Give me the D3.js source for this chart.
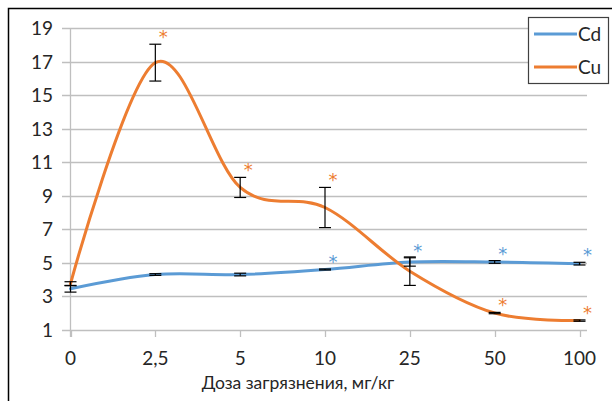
<!DOCTYPE html>
<html>
<head>
<meta charset="utf-8">
<script src="https://cdn.jsdelivr.net/npm/d3@7"></script>
<style>
  body { margin: 0; background: #fff; }
  text { font-family: Lato, "Noto Sans", sans-serif; fill: #262626; }
</style>
</head>
<body>
<div id="chart"></div>
<script>
const doses = ["0", "2,5", "5", "10", "25", "50", "100"]
const cdValues = [3.45, 4.3, 4.3, 4.6, 5.05, 5.05, 4.95]
const cdErrors = [0.2, 0.05, 0.08, 0.03, 0.25, 0.08, 0.08]
const cdSignif = [false, false, false, true, true, true, true]
const cuValues = [3.75, 16.95, 9.5, 8.3, 4.5, 2.0, 1.55]
const cuErrors = [0.12, 1.1, 0.6, 1.2, 0.85, 0.04, 0.04]
const cuSignif = [false, true, true, true, false, true, true]
const yTicks = [1, 3, 5, 7, 9, 11, 13, 15, 17, 19]

const WIDTH = 612, HEIGHT = 401
const series = [
	{ name: "Cd", color: "#5B9BD5", values: cdValues, errors: cdErrors, signif: cdSignif },
	{ name: "Cu", color: "#ED7D31", values: cuValues, errors: cuErrors, signif: cuSignif }
]

const svg = d3.select("#chart").append("svg")
	.attr("width", WIDTH)
	.attr("height", HEIGHT)

// outer frame (only left and top edges are visible)
svg.append("path")
	.attr("d", "M8.5,401V8.5H612")
	.attr("fill", "none")
	.attr("stroke", "#000")
	.attr("stroke-width", 1.5)

const x = d3.scalePoint()
	.domain(doses)
	.range([70.5, 579.5])

const y = d3.scaleLinear()
	.domain([1, 19])
	.range([329.8, 28.3])

// grid lines
svg.append("g")
	.selectAll("line")
	.data(yTicks)
	.join("line")
		.attr("x1", 62)
		.attr("x2", 587)
		.attr("y1", d => Math.round(y(d)) + 0.5)
		.attr("y2", d => Math.round(y(d)) + 0.5)
		.attr("stroke", "#bfbfbf")
		.attr("stroke-width", 1.3)

// y axis line
svg.append("line")
	.attr("x1", 70.5).attr("x2", 70.5)
	.attr("y1", Math.round(y(19))).attr("y2", 337)
	.attr("stroke", "#bfbfbf")
	.attr("stroke-width", 1.3)

// category tick marks
svg.append("g")
	.selectAll("line")
	.data(doses)
	.join("line")
		.attr("x1", d => Math.round(x(d)) + 0.5)
		.attr("x2", d => Math.round(x(d)) + 0.5)
		.attr("y1", Math.round(y(1)))
		.attr("y2", 337)
		.attr("stroke", "#bfbfbf")
		.attr("stroke-width", 1.3)

// y tick labels
svg.append("g")
	.selectAll("text")
	.data(yTicks)
	.join("text")
		.attr("x", 53)
		.attr("y", d => y(d))
		.attr("dy", "0.36em")
		.attr("text-anchor", "end")
		.attr("font-size", 19)
		.text(d => d)

// x tick labels
svg.append("g")
	.selectAll("text")
	.data(doses)
	.join("text")
		.attr("x", d => x(d))
		.attr("y", 365)
		.attr("text-anchor", "middle")
		.attr("font-size", 19)
		.text(d => d)

svg.append("text")
	.attr("x", 298)
	.attr("y", 389)
	.attr("text-anchor", "middle")
	.attr("font-size", 17.5)
	.text("Доза загрязнения, мг/кг")

const line = d3.line()
	.x((d, i) => x(doses[i]))
	.y(d => y(d))
	.curve(d3.curveCatmullRom.alpha(0))

series.forEach(s => {
	svg.append("path")
		.datum(s.values)
		.attr("d", line)
		.attr("fill", "none")
		.attr("stroke", s.color)
		.attr("stroke-width", 3)
		.attr("stroke-linecap", "round")
})

// error bars
series.forEach(s => {
	const g = svg.append("g")
		.attr("stroke", "#000")
		.attr("stroke-width", 1.2)
	s.values.forEach((v, i) => {
		const cx = x(doses[i])
		const top = y(v + s.errors[i]), bot = y(v - s.errors[i])
		g.append("line").attr("x1", cx).attr("x2", cx).attr("y1", top).attr("y2", bot)
		g.append("line").attr("x1", cx - 6).attr("x2", cx + 6).attr("y1", top).attr("y2", top)
		g.append("line").attr("x1", cx - 6).attr("x2", cx + 6).attr("y1", bot).attr("y2", bot)
	})
})

// significance asterisks, a little above and right of the error bar
series.forEach(s => {
	svg.append("g")
		.selectAll("text")
		.data(s.values.map((v, i) => ({ v, e: s.errors[i], i, on: s.signif[i] })).filter(d => d.on))
		.join("text")
			.attr("x", d => x(doses[d.i]) + 8)
			.attr("y", d => y(d.v + d.e) - 1)
			.attr("text-anchor", "middle")
			.attr("font-size", 18)
			.style("font-family", "'DejaVu Sans', sans-serif")
			.style("fill", s.color)
			.text("*")
})

// legend
const legend = svg.append("g")
legend.append("rect")
	.attr("x", 528.5).attr("y", 17.5)
	.attr("width", 80).attr("height", 66)
	.attr("fill", "#fff")
	.attr("stroke", "#404040")
	.attr("stroke-width", 1.2)
series.forEach((s, i) => {
	const ly = 34 + i * 33
	legend.append("line")
		.attr("x1", 534).attr("x2", 577)
		.attr("y1", ly).attr("y2", ly)
		.attr("stroke", s.color)
		.attr("stroke-width", 3)
	legend.append("text")
		.attr("x", 578)
		.attr("y", ly)
		.attr("dy", "0.36em")
		.attr("font-size", 19)
		.text(s.name)
})
</script>
</body>
</html>
